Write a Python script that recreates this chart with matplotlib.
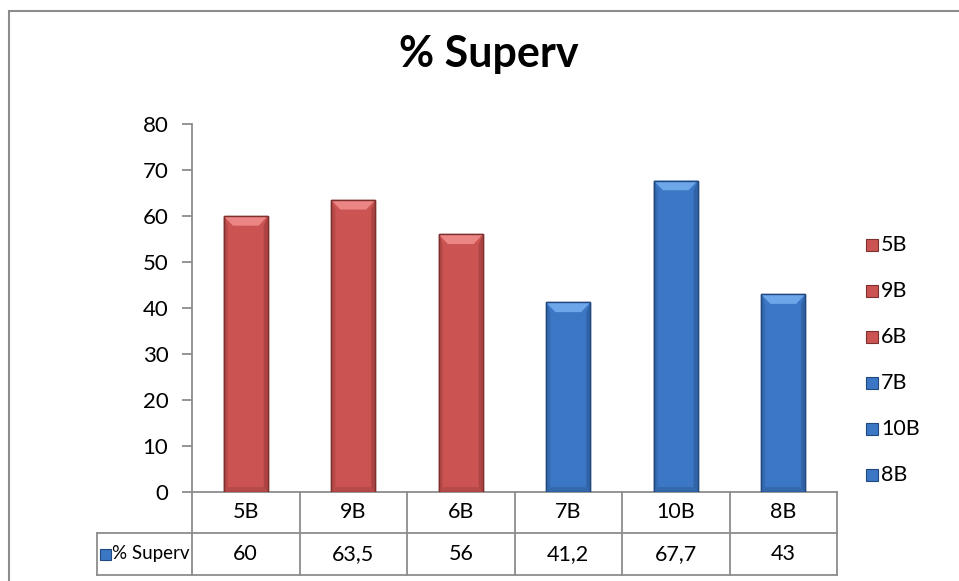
import matplotlib
matplotlib.use("Agg")
import matplotlib.pyplot as plt
from matplotlib.patches import Rectangle, Polygon

categories = ["5B", "9B", "6B", "7B", "10B", "8B"]
values = [60, 63.5, 56, 41.2, 67.7, 43]
value_labels = ["60", "63,5", "56", "41,2", "67,7", "43"]
groups = ["red", "red", "red", "blue", "blue", "blue"]
series_name = "% Superv"
title = "% Superv"
yticks = [0, 10, 20, 30, 40, 50, 60, 70, 80]

plt.rcParams["font.family"] = ["Lato", "DejaVu Sans"]

W, H = 959, 581
fig = plt.figure(figsize=(W / 100, H / 100), dpi=100)

def fx(px):
    return px / W

def fy(py):
    return 1 - py / H

ax_l, ax_r, ax_t, ax_b = 192, 837, 124, 492
ax = fig.add_axes([fx(ax_l), fy(ax_b), fx(ax_r - ax_l), (ax_b - ax_t) / H])

# outer chart frame
fig.add_artist(Rectangle((fx(9), fy(H + 20)), fx(W + 20), (H + 20 - 11) / H,
                         transform=fig.transFigure, fill=False,
                         edgecolor="#8c8c8c", linewidth=1.5))

face = {"red": "#cb5452", "blue": "#3b77c4"}
edge = {"red": "#7e302e", "blue": "#21497f"}
side = {"red": "#a84341", "blue": "#2f62a3"}
light = {"red": "#ec8684", "blue": "#6ea6ea"}
bottom = {"red": "#b54a48", "blue": "#3468ad"}

x = list(range(len(categories)))
bw = 0.41
bx = 0.085   # bevel width in category units
by = 2.1     # bevel height in data units
for xi, v, g in zip(x, values, groups):
    l, r = xi - bw / 2, xi + bw / 2
    ax.bar(xi, v, width=bw, color=face[g], edgecolor=edge[g], linewidth=1.0,
           zorder=3)
    # side shading
    ax.add_patch(Polygon([(l, 0), (l, v), (l + bx * 0.45, v - by), (l + bx * 0.45, by * 0.5)],
                         closed=True, facecolor=side[g], edgecolor="none", zorder=4, alpha=0.55))
    ax.add_patch(Polygon([(r, 0), (r, v), (r - bx * 0.45, v - by), (r - bx * 0.45, by * 0.5)],
                         closed=True, facecolor=side[g], edgecolor="none", zorder=4, alpha=0.9))
    # bottom bevel
    ax.add_patch(Polygon([(l, 0), (r, 0), (r - bx * 0.45, by * 0.5), (l + bx * 0.45, by * 0.5)],
                         closed=True, facecolor=bottom[g], edgecolor="none", zorder=4))
    # top bevel
    ax.add_patch(Polygon([(l, v), (r, v), (r - bx, v - by), (l + bx, v - by)],
                         closed=True, facecolor=light[g], edgecolor="none", zorder=5))
    ax.add_patch(Rectangle((l, 0), bw, v, fill=False, edgecolor=edge[g],
                           linewidth=1.0, zorder=6))

fs = 15.5
ax.set_xlim(-0.5, len(categories) - 0.5)
ax.set_ylim(0, 80)
ax.set_yticks(yticks)
ax.set_yticklabels([str(t) for t in yticks], fontsize=16)
ax.set_xticks([])
for s in ["top", "right"]:
    ax.spines[s].set_visible(False)
ax.spines["left"].set_color("#8c8c8c")
ax.spines["bottom"].set_color("#8c8c8c")
ax.spines["left"].set_linewidth(1.3)
ax.spines["bottom"].set_linewidth(1.3)
ax.tick_params(axis="y", length=7, width=1.3, color="#8c8c8c", pad=10)

# data table below the plot
row_top, row_mid, row_bot = 492, 533, 575
tbl_left = 97
lc = "#8c8c8c"
lw = 1.3
def hline(y, x0, x1):
    fig.add_artist(plt.Line2D([fx(x0), fx(x1)], [fy(y), fy(y)], color=lc, lw=lw))
def vline(xp, y0, y1):
    fig.add_artist(plt.Line2D([fx(xp), fx(xp)], [fy(y0), fy(y1)], color=lc, lw=lw))

hline(row_mid, tbl_left, ax_r)
hline(row_bot, tbl_left, ax_r)
vline(tbl_left, row_mid, row_bot)
cw = (ax_r - ax_l) / len(categories)
for i in range(len(categories) + 1):
    vline(ax_l + i * cw, row_top, row_bot)
for i, (c, lab) in enumerate(zip(categories, value_labels)):
    cx = ax_l + (i + 0.5) * cw
    fig.text(fx(cx), fy((row_top + row_mid) / 2), c, ha="center", va="center",
             fontsize=fs)
    fig.text(fx(cx), fy((row_mid + row_bot) / 2), lab, ha="center", va="center",
             fontsize=fs)
fig.patches.append(Rectangle((fx(100), fy(560)), fx(11), 11 / H,
                             transform=fig.transFigure, facecolor="#3b77c4",
                             edgecolor="#21497f", lw=0.8))
fig.text(fx(112), fy((row_mid + row_bot) / 2), series_name, ha="left",
         va="center", fontsize=13.5)

# legend
leg_y0, leg_dy = 245, 46
for i, (c, g) in enumerate(zip(categories, groups)):
    yc = leg_y0 + i * leg_dy
    fig.patches.append(Rectangle((fx(866), fy(yc + 6)), fx(12), 12 / H,
                                 transform=fig.transFigure, facecolor=face[g],
                                 edgecolor=edge[g], lw=0.8))
    fig.text(fx(881), fy(yc), c, ha="left", va="center", fontsize=fs)

fig.text(fx(489), fy(54), title, ha="center", va="center", fontsize=31,
         fontweight="bold")

fig.savefig("out.png", dpi=100)
